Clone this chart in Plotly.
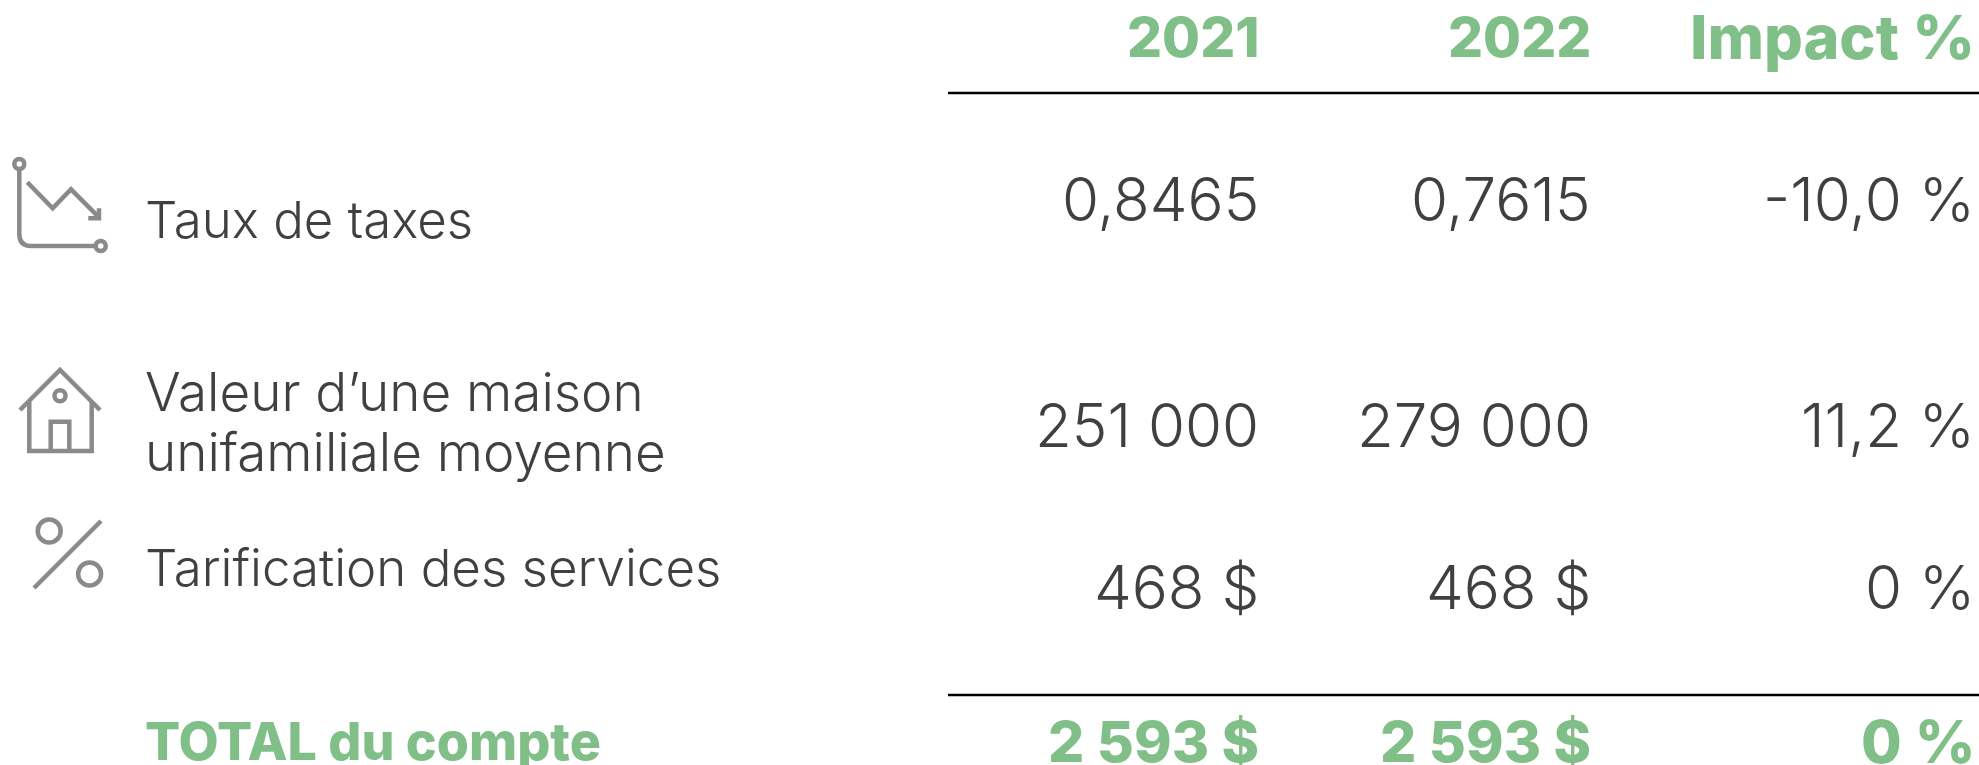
import plotly.graph_objects as go

W, H = 1979, 765
GREEN = "#81BF89"
DARK = "#404040"
ICON = "#8A8A8A"
FONT = "Inter"

headers = ["2021", "2022", "Impact %"]
row_labels = ["Taux de taxes", "Valeur d’une maison", "unifamiliale moyenne", "Tarification des services"]
total_label = "TOTAL du compte"
values_2021 = ["0,8465", "251 000", "468 $"]
values_2022 = ["0,7615", "279 000", "468 $"]
values_impact = ["-10,0 %", "11,2 %", "0 %"]
total_values = ["2 593 $", "2 593 $", "0 %"]

col_right = [1260, 1592, 1976]
row_y = [199, 425, 587]
label_y = [219, 392, 452, 567]
label_size = [51, 53, 53, 51]
header_size = [55, 55, 61]
total_size = [57, 57, 59]
header_y = 37
total_y = 741
label_x = 144


def text(x, y, s, size, color, weight, anchor):
    fig.add_annotation(x=x, y=y, text=s, xref="x", yref="y", showarrow=False,
                       xanchor=anchor, yanchor="middle", align="left", borderpad=0,
                       font=dict(family=FONT, size=size, color=color, weight=weight))


fig = go.Figure()
fig.add_trace(go.Scatter(x=[], y=[], showlegend=False))

for x, h, s in zip(col_right, headers, header_size):
    text(x, header_y, h, s, GREEN, 800, "right")
for col, x in zip([values_2021, values_2022, values_impact], col_right):
    for y, v in zip(row_y, col):
        text(x, y, v, 60, DARK, 300, "right")
for x, v, s in zip(col_right, total_values, total_size):
    text(x, total_y, v, s, GREEN, 800, "right")
for y, s, z in zip(label_y, row_labels, label_size):
    text(label_x, y, s, z, DARK, 300, "left")
text(label_x, total_y, total_label, 52, GREEN, 800, "left")

shapes = []
for y in (93, 695):
    shapes.append(dict(type="line", x0=948, x1=W, y0=y, y1=y, line=dict(color="#000", width=2.5)))

icon_paths = [
    "M19.3,170 L19.3,234 Q19.3,246 31,246 L95,246",
    "M27.3,182.3 L52.7,208.3 L71,189.3 L99,217.3",
    "M99,208.3 L99,218.3 L88.3,218.3",
    "M20,410 L60,370 L100,410",
    "M29.3,401.7 L29.3,451 L91.7,451 L91.7,401.7",
    "M50.7,451 L50.7,421.7 L69.3,421.7 L69.3,451",
    "M34,588 L101,521",
]
for p in icon_paths:
    shapes.append(dict(type="path", path=p, line=dict(color=ICON, width=4.5)))
icon_circles = [(19.3, 164, 5), (100.7, 246, 5), (60, 395.7, 5.5), (49.2, 531, 11.5), (89.6, 574, 11.5)]
for cx, cy, r in icon_circles:
    shapes.append(dict(type="circle", x0=cx - r, x1=cx + r, y0=cy - r, y1=cy + r,
                       line=dict(color=ICON, width=4.5)))

fig.update_layout(
    width=W, height=H, margin=dict(l=0, r=0, t=0, b=0),
    paper_bgcolor="white", plot_bgcolor="white", showlegend=False, shapes=shapes,
    xaxis=dict(range=[0, W], visible=False, fixedrange=True),
    yaxis=dict(range=[H, 0], visible=False, fixedrange=True),
)
fig.write_html("out.html", config=dict(displayModeBar=False),
               post_script="document.body.style.margin='0';document.documentElement.style.overflow='hidden';")
